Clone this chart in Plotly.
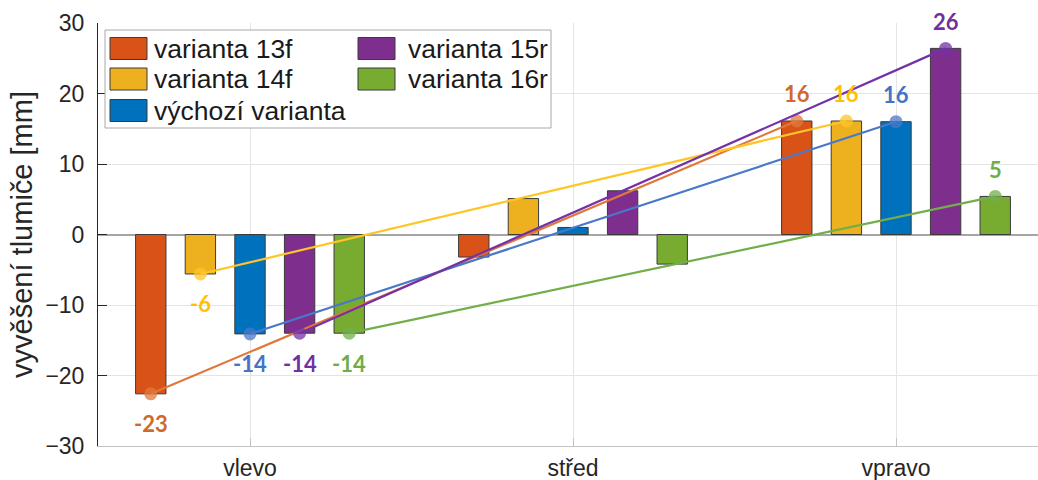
import plotly.graph_objects as go

# Categories and series
categories = ["vlevo", "střed", "vpravo"]
series_names = ["varianta 13f", "varianta 14f", "výchozí varianta", "varianta 15r", "varianta 16r"]

# Damper hanging per series [mm] for vlevo / střed / vpravo
v_13f = [-22.6, -3.2, 16.1]
v_14f = [-5.6, 5.1, 16.1]
v_vychozi = [-14.1, 1.0, 16.0]
v_15r = [-14.0, 6.2, 26.4]
v_16r = [-14.0, -4.2, 5.4]
series_values = [v_13f, v_14f, v_vychozi, v_15r, v_16r]

y_ticks = [-30, -20, -10, 0, 10, 20, 30]

# Styling
bar_colors = ["#D95319", "#EDB120", "#0072BD", "#7E2F8E", "#77AC30"]
line_colors = ["#E0783A", "#FFC426", "#4A78C8", "#7432A6", "#72AE4A"]
marker_colors = ["rgba(224,120,58,0.75)", "rgba(255,196,38,0.75)", "rgba(74,120,200,0.75)",
                 "rgba(116,50,166,0.75)", "rgba(114,174,74,0.75)"]
label_colors = ["#D0692A", "#FFC000", "#4472C4", "#7030A0", "#70AD47"]

W, H = 1038, 480
L, R, T, B = 98, 1038, 23, 446
cat_pos = [1, 2, 3]
group_step = 0.1536
bar_width = 0.094
x_range = [1 - (250 - L) / 323, 1 + (R - 250) / 323]

fig = go.Figure()

n = len(series_names)
xs_all = []
for k, (name, vals) in enumerate(zip(series_names, series_values)):
    xs = [c + (k - (n - 1) / 2) * group_step for c in cat_pos]
    xs_all.append(xs)
    fig.add_trace(go.Bar(
        x=xs, y=vals, width=bar_width, name=name,
        marker=dict(color=bar_colors[k], line=dict(color="#3a3a3a", width=1)),
        showlegend=False, hoverinfo="y+name",
    ))

# Trend lines from the left to the right configuration
for k, (name, vals) in enumerate(zip(series_names, series_values)):
    xs = xs_all[k]
    fig.add_trace(go.Scatter(
        x=[xs[0], xs[2]], y=[vals[0], vals[2]], mode="lines+markers",
        line=dict(color=line_colors[k], width=2.2),
        marker=dict(color=marker_colors[k], size=13, line=dict(width=0)),
        showlegend=False, hoverinfo="skip",
    ))

# Value labels at the end points
for k, vals in enumerate(series_values):
    xs = xs_all[k]
    for idx, shift in ((0, -30), (2, 27)):
        fig.add_annotation(
            x=xs[idx], y=vals[idx], text=f"{round(vals[idx]):d}", showarrow=False,
            yshift=shift,
            font=dict(family="Lato", size=22, weight="bold", color=label_colors[k]),
            xanchor="center", yanchor="middle",
        )


def px_x(px):
    return (px - L) / (R - L)


def px_y(py):
    return (B - py) / (B - T)


# Legend box (two columns)
fig.add_shape(type="rect", xref="paper", yref="paper",
              x0=px_x(105), x1=px_x(551), y0=px_y(128), y1=px_y(30),
              fillcolor="white", line=dict(color="#a8a8a8", width=1))
legend_slots = [(110, 152, 48.5), (110, 152, 79), (110, 152, 110.5), (358, 406, 48.5), (358, 406, 79)]
for k, name in enumerate(series_names):
    sx, tx, cy = legend_slots[k]
    fig.add_shape(type="rect", xref="paper", yref="paper",
                  x0=px_x(sx), x1=px_x(sx + 37), y0=px_y(cy + 11), y1=px_y(cy - 11),
                  fillcolor=bar_colors[k], line=dict(color="#3a3a3a", width=1))
    fig.add_annotation(xref="paper", yref="paper", x=px_x(tx), y=px_y(cy), text=name,
                       showarrow=False, xanchor="left", yanchor="middle",
                       font=dict(family="Liberation Sans", size=26.5, color="#1a1a1a"))

fig.update_layout(
    width=W, height=H,
    margin=dict(l=L, r=W - R, t=T, b=H - B, autoexpand=False),
    paper_bgcolor="white", plot_bgcolor="white",
    barmode="overlay",
    font=dict(family="Liberation Sans", color="#262626"),
)
fig.update_xaxes(
    range=x_range, tickvals=cat_pos, ticktext=categories,
    showgrid=True, gridcolor="#e4e4e4", gridwidth=1,
    showline=True, linecolor="#c4c4c4", linewidth=1,
    ticks="inside", ticklen=8, tickcolor="#c4c4c4",
    tickfont=dict(size=23, color="#262626"), ticklabelstandoff=1,
    zeroline=False,
)
fig.update_yaxes(
    range=[-30, 30], tickvals=y_ticks,
    showgrid=True, gridcolor="#e4e4e4", gridwidth=1,
    showline=True, linecolor="#262626", linewidth=1,
    ticks="inside", ticklen=9, tickcolor="#262626",
    tickfont=dict(size=23, color="#262626"), ticklabelstandoff=8,
    zeroline=True, zerolinecolor="#a6a6a6", zerolinewidth=2,
    title=dict(text="vyvěšení tlumiče [mm]", font=dict(size=29, color="#262626"), standoff=4),
)

fig.write_html("out.html")
